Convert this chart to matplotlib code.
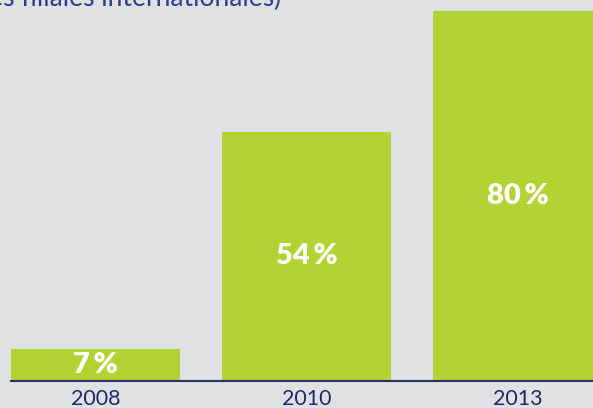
import matplotlib
matplotlib.use("Agg")
import matplotlib.pyplot as plt

years = ["2008", "2010", "2013"]
values = [7, 54, 80]
value_labels = ["7\u2009%", "54\u2009%", "80\u2009%"]
title_text = "(en % des filiales internationales)"

BG = "#e0e1e3"
GREEN = "#b3d334"
NAVY = "#1f2a66"
TITLE_COL = "#2e3d8f"

W, H, DPI = 593, 408, 100
fig = plt.figure(figsize=(W / DPI, H / DPI), dpi=DPI, facecolor=BG)
ax = fig.add_axes([0, 27 / H, 1, 1 - 27 / H])
ax.set_facecolor(BG)

pos = list(range(len(years)))
ax.bar(pos, values, width=169 / 211, color=GREEN, zorder=2)
ax.set_xlim(-95.5 / 211, (593 - 95.5) / 211)
ax.set_ylim(0, 381 / 4.62)

for s in ax.spines.values():
    s.set_visible(False)
ax.set_yticks([])
ax.set_xticks(pos)
ax.set_xticklabels(years, fontsize=15.5, color=NAVY, family="Lato")
ax.tick_params(axis="x", length=0, pad=6)

# baseline
ax.plot([-0.5 * 169 / 211, 3], [0, 0], color="#2b3566", lw=1.5, zorder=3,
        clip_on=False)

for p, v, lab in zip(pos, values, value_labels):
    ax.text(p, v / 2, lab, ha="center", va="center", color="white",
            fontsize=21, fontweight="heavy", family="Lato", zorder=4)

fig.text(281 / W, 1 - 6 / H, title_text, ha="right", va="baseline",
         fontsize=19, color=TITLE_COL, family="Lato")

fig.savefig("out.png", dpi=DPI, facecolor=BG)
